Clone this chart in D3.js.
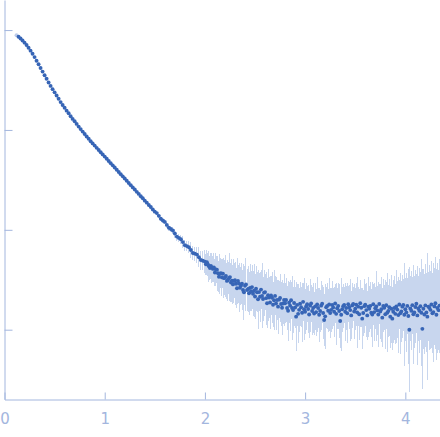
<!DOCTYPE html>
<html>
<head>
<meta charset="utf-8">
<script src="https://cdn.jsdelivr.net/npm/d3@7"></script>
<style>
  html, body { margin: 0; padding: 0; background: #fff; }
  svg { display: block; }
  .axis path, .axis line { stroke: #a3b6de; }
  .axis text { fill: #a3b6de; font-family: "DejaVu Sans", sans-serif; font-size: 15px; }
</style>
</head>
<body>
<svg id="chart"></svg>
<script>
// scattering vector q, intensity and its error
const q = [
  0.12,0.14,0.16,0.18,0.20,0.22,0.24,0.26,0.28,0.30,
  0.32,0.34,0.36,0.38,0.40,0.42,0.44,0.46,0.48,0.50,
  0.52,0.54,0.56,0.58,0.60,0.62,0.64,0.66,0.68,0.70,
  0.72,0.74,0.76,0.78,0.80,0.82,0.84,0.86,0.88,0.90,
  0.92,0.94,0.96,0.98,1.00,1.02,1.04,1.06,1.08,1.10,
  1.12,1.14,1.16,1.18,1.20,1.22,1.24,1.26,1.28,1.30,
  1.32,1.34,1.36,1.38,1.40,1.42,1.44,1.46,1.48,1.50,
  1.52,1.54,1.56,1.58,1.60,1.62,1.64,1.66,1.68,1.70,
  1.72,1.74,1.76,1.78,1.80,1.82,1.84,1.86,1.88,1.90,
  1.92,1.94,1.96,1.98,
  2.00,2.01,2.02,2.03,2.04,2.05,2.06,2.07,2.08,2.09,
  2.10,2.11,2.12,2.13,2.14,2.15,2.16,2.17,2.18,2.19,
  2.20,2.21,2.22,2.23,2.24,2.25,2.26,2.27,2.28,2.29,
  2.30,2.31,2.32,2.33,2.34,2.35,2.36,2.37,2.38,2.39,
  2.40,2.41,2.42,2.43,2.44,2.45,2.46,2.47,2.48,2.49,
  2.50,2.51,2.52,2.53,2.54,2.55,2.56,2.57,2.58,2.59,
  2.60,2.61,2.62,2.63,2.64,2.65,2.66,2.67,2.68,2.69,
  2.70,2.71,2.72,2.73,2.74,2.75,2.76,2.77,2.78,2.79,
  2.80,2.81,2.82,2.83,2.84,2.85,2.86,2.87,2.88,2.89,
  2.90,2.91,2.92,2.93,2.94,2.95,2.96,2.97,2.98,2.99,
  3.00,3.01,3.02,3.03,3.04,3.05,3.06,3.07,3.08,3.09,
  3.10,3.11,3.12,3.13,3.14,3.15,3.16,3.17,3.18,3.19,
  3.20,3.21,3.22,3.23,3.24,3.25,3.26,3.27,3.28,3.29,
  3.30,3.31,3.32,3.33,3.34,3.35,3.36,3.37,3.38,3.39,
  3.40,3.41,3.42,3.43,3.44,3.45,3.46,3.47,3.48,3.49,
  3.50,3.51,3.52,3.53,3.54,3.55,3.56,3.57,3.58,3.59,
  3.60,3.61,3.62,3.63,3.64,3.65,3.66,3.67,3.68,3.69,
  3.70,3.71,3.72,3.73,3.74,3.75,3.76,3.77,3.78,3.79,
  3.80,3.81,3.82,3.83,3.84,3.85,3.86,3.87,3.88,3.89,
  3.90,3.91,3.92,3.93,3.94,3.95,3.96,3.97,3.98,3.99,
  4.00,4.01,4.02,4.03,4.04,4.05,4.06,4.07,4.08,4.09,
  4.10,4.11,4.12,4.13,4.14,4.15,4.16,4.17,4.18,4.19,
  4.20,4.21,4.22,4.23,4.24,4.25,4.26,4.27,4.28,4.29,
  4.30,4.31,4.32,4.33,4.34
];

const intensity = [
  887,857,824,787,748,708,665,622,579,536,
  493,454,417,384,353,325,299,276,256,238,
  221,205,190,178,167,156,147,137,129,122,
  115,108,102,96.2,91.0,86.1,81.5,77.1,73.3,69.7,
  66.2,63.0,59.8,56.9,54.1,51.4,48.9,46.5,44.2,42.0,
  39.9,37.9,36.1,34.3,32.6,31.0,29.4,28.0,26.6,25.3,
  24.0,22.9,21.7,20.7,19.6,18.7,17.7,16.9,16.0,15.2,
  14.7,13.8,12.9,12.4,12.0,11.2,10.5,10.2,9.85,9.18,
  8.55,8.30,8.05,7.53,7.02,6.87,6.70,6.27,5.85,5.77,
  5.65,5.31,4.98,4.90,
  4.80,4.52,4.73,4.51,4.32,4.15,4.35,4.19,4.06,4.20,
  3.74,4.00,3.99,3.68,3.39,3.63,3.67,3.34,3.63,3.28,
  3.31,3.45,3.08,3.14,3.28,3.36,2.97,3.10,2.84,3.07,
  3.13,2.88,2.60,3.07,2.89,2.63,2.76,2.89,2.50,2.37,
  2.75,2.83,2.49,2.56,2.32,2.62,2.43,2.67,2.29,2.45,
  2.15,2.57,2.37,2.02,2.38,2.14,2.52,2.18,2.03,2.35,
  2.38,2.07,1.84,2.21,2.10,1.87,2.20,2.09,1.78,1.97,
  2.18,1.83,1.98,1.70,2.00,2.08,1.81,1.66,1.83,1.98,
  1.84,1.98,1.65,1.55,1.86,1.74,1.97,1.65,1.57,1.85,
  1.67,1.35,1.77,1.44,1.58,1.82,1.68,1.48,1.90,1.60,
  1.51,1.71,1.80,1.61,1.42,1.74,1.83,1.54,1.65,1.45,
  1.71,1.50,1.79,1.65,1.41,1.54,1.74,1.82,1.47,1.25,
  1.36,1.68,1.73,1.55,1.79,1.47,1.58,1.77,1.67,1.51,
  1.83,1.44,1.64,1.73,1.54,1.22,1.41,1.60,1.72,1.77,
  1.51,1.65,1.46,1.80,1.68,1.57,1.39,1.75,1.81,1.52,
  1.62,1.78,1.49,1.70,1.43,1.84,1.66,1.29,1.47,1.72,
  1.78,1.57,1.39,1.70,1.62,1.73,1.48,1.42,1.80,1.50,
  1.64,1.71,1.56,1.42,1.81,1.52,1.60,1.32,1.73,1.66,
  1.43,1.76,1.48,1.54,1.68,1.35,1.62,1.29,1.51,1.65,
  1.44,1.71,1.59,1.40,1.79,1.46,1.52,1.70,1.77,1.41,
  1.60,1.49,1.73,1.37,1.00,1.63,1.55,1.76,1.43,1.49,
  1.69,1.82,1.39,1.63,1.55,1.72,1.48,1.02,1.62,1.42,
  1.75,1.49,1.35,1.70,1.66,1.58,1.79,1.46,1.50,1.71,
  1.84,1.41,1.65,1.57,1.74
];

const sigma = [
  3.5,3.4,3.3,3.1,3.0,2.8,2.7,2.5,2.3,2.1,
  2.0,1.8,1.7,1.5,1.4,1.3,1.2,1.1,1.0,0.95,
  0.9,0.82,0.76,0.71,0.84,0.78,0.74,0.69,0.65,0.61,
  0.58,0.54,0.51,0.48,0.5,0.5,0.49,0.48,0.47,0.47,
  0.46,0.47,0.47,0.46,0.46,0.46,0.47,0.47,0.47,0.48,
  0.48,0.48,0.49,0.5,0.52,0.53,0.53,0.53,0.53,0.53,
  0.55,0.55,0.56,0.58,0.59,0.6,0.6,0.61,0.61,0.61,
  0.62,0.64,0.65,0.67,0.69,0.78,0.73,0.68,0.77,0.9,
  0.81,0.76,0.85,1.0,0.91,0.85,0.95,1.12,1.0,0.95,
  1.05,1.25,1.09,1.05,
  1.24,1.09,1.36,1.19,1.53,1.13,1.28,1.45,1.21,1.40,
  1.15,1.52,1.26,1.47,1.21,1.69,1.26,1.44,1.23,1.52,
  1.32,1.66,1.25,1.48,1.23,1.83,1.32,1.52,1.25,1.57,
  1.27,1.43,1.21,1.63,1.27,1.48,1.20,1.38,1.17,1.52,
  1.24,1.75,1.20,1.37,1.15,1.42,1.13,1.33,1.19,1.49,
  1.10,1.34,1.10,1.37,1.05,1.23,1.12,1.63,1.04,1.24,
  1.00,1.26,1.06,1.32,0.98,1.14,0.99,1.22,0.93,1.36,
  0.98,1.13,0.91,1.06,0.87,1.16,0.93,1.06,0.88,1.19,
  0.85,0.99,0.82,1.07,0.88,1.01,0.83,1.23,0.84,0.96,
  0.79,1.07,0.85,0.98,0.80,0.92,0.77,1.01,0.83,1.14,
  0.78,0.94,0.75,0.89,0.78,1.06,0.77,0.85,0.95,0.72,
  0.92,0.81,1.15,0.77,0.88,0.75,0.98,0.79,0.87,0.74,
  1.02,0.80,0.93,0.76,1.10,0.84,0.79,0.97,0.73,0.88,
  0.83,1.04,0.78,0.91,0.95,0.76,1.18,0.82,0.86,0.74,
  1.02,0.82,1.01,0.74,0.86,1.12,0.77,0.91,0.72,0.95,
  0.79,0.89,1.22,0.77,0.84,0.99,0.75,0.91,0.78,1.06,
  0.86,0.97,0.79,1.18,0.85,0.94,0.82,1.07,0.85,0.99,
  0.80,1.38,0.88,1.07,0.84,0.98,1.19,0.90,1.06,0.87,
  1.14,0.96,1.35,0.92,1.10,0.96,1.27,0.93,1.10,1.22,
  0.99,1.43,1.06,1.22,1.01,1.36,1.08,1.23,1.07,1.67,
  1.17,1.37,1.13,1.50,1.44,1.21,1.41,1.16,1.63,1.24,
  1.42,1.23,1.59,1.22,1.53,1.35,1.83,1.41,1.49,1.31,
  1.66,1.37,1.98,1.35,1.62,1.43,1.79,1.35,1.71,1.51,
  1.96,1.48,1.72,1.44,1.88
];

const xTicks = [0, 1, 2, 3, 4];
const yTicks = [1, 10, 100, 1000];
const excluded = 1; // first point drawn pale

const width = 440;
const height = 437;

const svg = d3.select('#chart')
    .attr('width', width)
    .attr('height', height);

const x = d3.scaleLinear().domain([0, 4.346]).range([4.5, 440]);
const y = d3.scaleLog().domain([0.2, 2000]).range([399.5, 0]);

const data = q.map((d, i) => ({ q: d, I: intensity[i], s: sigma[i], i: i }));

svg.append('clipPath').attr('id', 'plot')
    .append('rect').attr('x', 4.5).attr('y', 0).attr('width', 440).attr('height', 399.5);

const g = svg.append('g').attr('clip-path', 'url(#plot)');

// error bars, symmetric on the log axis
const half = d => 0.4343 * d.s / d.I;
g.selectAll('line.err')
    .data(data)
    .enter()
    .append('line')
    .attr('class', 'err')
    .attr('x1', d => x(d.q))
    .attr('x2', d => x(d.q))
    .attr('y1', d => y(d.I * Math.pow(10, half(d))))
    .attr('y2', d => y(d.I * Math.pow(10, -half(d))))
    .attr('stroke', '#c8d6ee')
    .attr('stroke-width', 1)
    .attr('shape-rendering', 'crispEdges');

g.selectAll('circle')
    .data(data)
    .enter()
    .append('circle')
    .attr('cx', d => x(d.q))
    .attr('cy', d => y(d.I))
    .attr('r', 1.95)
    .attr('fill', d => d.i < excluded ? '#bccbea' : '#3765b6');

svg.append('g')
    .attr('class', 'axis')
    .attr('transform', 'translate(0,399.5)')
    .call(d3.axisBottom(x).tickValues(xTicks).tickSizeInner(-7).tickSizeOuter(0).tickPadding(14).tickFormat(d3.format('d')));

svg.append('g')
    .attr('class', 'axis')
    .attr('transform', 'translate(4.5,0)')
    .call(d3.axisLeft(y).tickValues(yTicks).tickSizeInner(-8).tickSizeOuter(0).tickFormat(''));

svg.selectAll('.axis').attr('font-family', null).attr('font-size', null);
</script>
</body>
</html>
